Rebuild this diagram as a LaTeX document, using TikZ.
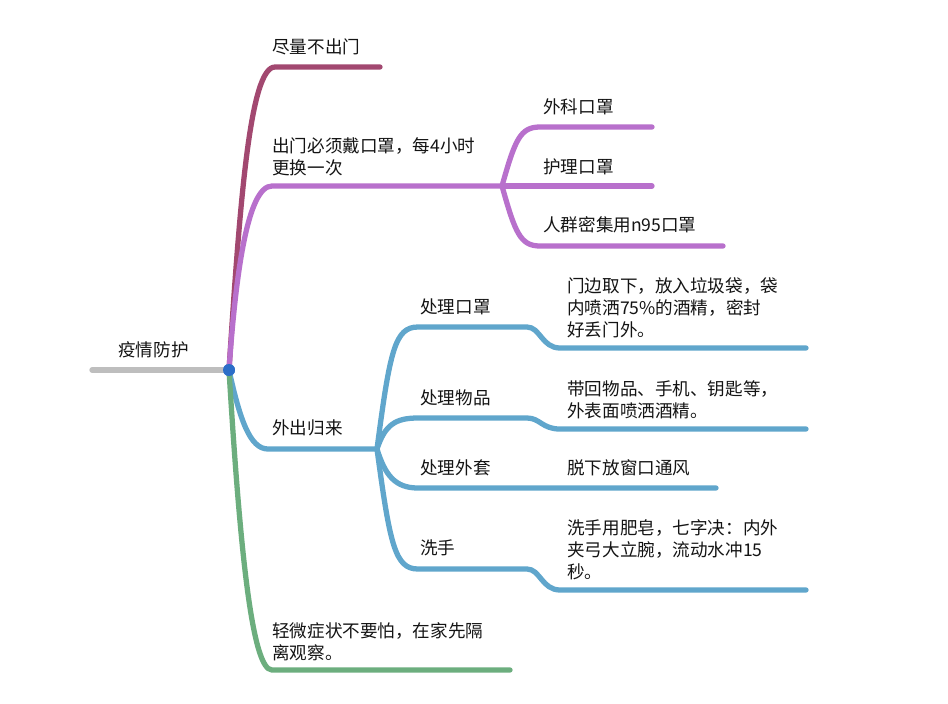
\documentclass[tikz,border=0pt]{standalone}
\usepackage{fontspec}
\usepackage{tikz}
\usetikzlibrary{positioning,calc}
\newfontfamily\cjk{Noto Sans CJK SC}
\definecolor{mapmaroon}{RGB}{162,72,112}
\definecolor{mappurple}{RGB}{184,112,204}
\definecolor{mapblue}{RGB}{96,166,204}
\definecolor{mapgreen}{RGB}{108,174,126}
\definecolor{mapgrey}{RGB}{190,190,190}
\definecolor{hubblue}{RGB}{44,110,200}
\definecolor{textdark}{RGB}{20,20,20}

\begin{document}
\begin{tikzpicture}[x=0.02cm, y=-0.02cm,
    lbl/.style={anchor=west, inner sep=0pt, align=left, text=textdark,
               font=\cjk\fontsize{10pt}{12.6pt}\selectfont},
    limb/.style={line width=3pt, line cap=round, line join=round}
]
    \useasboundingbox[fill=white] (0,0) rectangle (948,704);

    % Root: grey stem and hub
    \coordinate (stem) at (92,370);
    \node[circle, fill=hubblue, inner sep=0pt, minimum size=0.24cm] (hub) at (229,370) {};
    \node[lbl] (title) at (118,350) {疫情防护};
    \draw[limb, mapgrey] (stem) -- (hub.west);

    % Branch 1 (maroon)
    \coordinate (a1) at (380,67);
    \node[lbl] (stay) at (272,47) {尽量不出门};
    \draw[limb, mapmaroon] (hub.center) .. controls (240,200) and (250,67) .. (275,67) -- (a1);

    % Branch 2 (purple) and mask types
    \coordinate (j2) at (502,186);
    \node[lbl] (mask) at (272,157) {出门必须戴口罩，每4小时\\更换一次};
    \draw[limb, mappurple] (hub.center) .. controls (236,270) and (248,186) .. (272,186) -- (j2);
    \coordinate (b1) at (652,127);
    \coordinate (b2) at (652,186);
    \coordinate (b3) at (723,246);
    \node[lbl] (surg) at (543,107) {外科口罩};
    \node[lbl] (care) at (543,167) {护理口罩};
    \node[lbl] (n95)  at (543,225) {人群密集用n95口罩};
    \draw[limb, mappurple] (j2) .. controls (515,140) and (520,127) .. (540,127) -- (b1);
    \draw[limb, mappurple] (j2) -- (b2);
    \draw[limb, mappurple] (j2) .. controls (515,232) and (520,246) .. (540,246) -- (b3);

    % Branch 3 (blue) and its four steps
    \coordinate (j3) at (377,449);
    \node[lbl] (back) at (272,428) {外出归来};
    \draw[limb, mapblue] (hub.center) .. controls (240,420) and (250,449) .. (268,449) -- (j3);
    \coordinate (c1) at (806,348);
    \coordinate (c2) at (806,429);
    \coordinate (c3) at (716,488);
    \coordinate (c4) at (806,590);
    \node[lbl] (s1) at (420,307) {处理口罩};
    \node[lbl] (s2) at (420,398) {处理物品};
    \node[lbl] (s3) at (420,468) {处理外套};
    \node[lbl] (s4) at (420,548) {洗手};
    \node[lbl] (d1) at (567,308) {门边取下，放入垃圾袋，袋\\内喷洒75\%的酒精，密封\\好丢门外。};
    \node[lbl] (d2) at (567,400) {带回物品、手机、钥匙等，\\外表面喷洒酒精。};
    \node[lbl] (d3) at (567,468) {脱下放窗口通风};
    \node[lbl] (d4) at (567,550) {洗手用肥皂，七字决：内外\\夹弓大立腕，流动水冲15\\秒。};
    \draw[limb, mapblue] (j3) .. controls (390,350) and (395,327) .. (418,327) -- (527,327)
        .. controls (540,327) and (542,348) .. (560,348) -- (c1);
    \draw[limb, mapblue] (j3) .. controls (385,425) and (395,418) .. (418,418) -- (527,418)
        .. controls (540,418) and (542,429) .. (560,429) -- (c2);
    \draw[limb, mapblue] (j3) .. controls (385,475) and (395,488) .. (418,488) -- (c3);
    \draw[limb, mapblue] (j3) .. controls (390,545) and (395,569) .. (418,569) -- (527,569)
        .. controls (540,569) and (542,590) .. (560,590) -- (c4);

    % Branch 4 (green)
    \coordinate (e1) at (510,670);
    \node[lbl] (mild) at (272,642) {轻微症状不要怕，在家先隔\\离观察。};
    \draw[limb, mapgreen] (hub.center) .. controls (240,550) and (252,670) .. (272,670) -- (e1);

    % keep the hub on top
    \fill[hubblue] (hub) circle (0.12cm);
\end{tikzpicture}
\end{document}
